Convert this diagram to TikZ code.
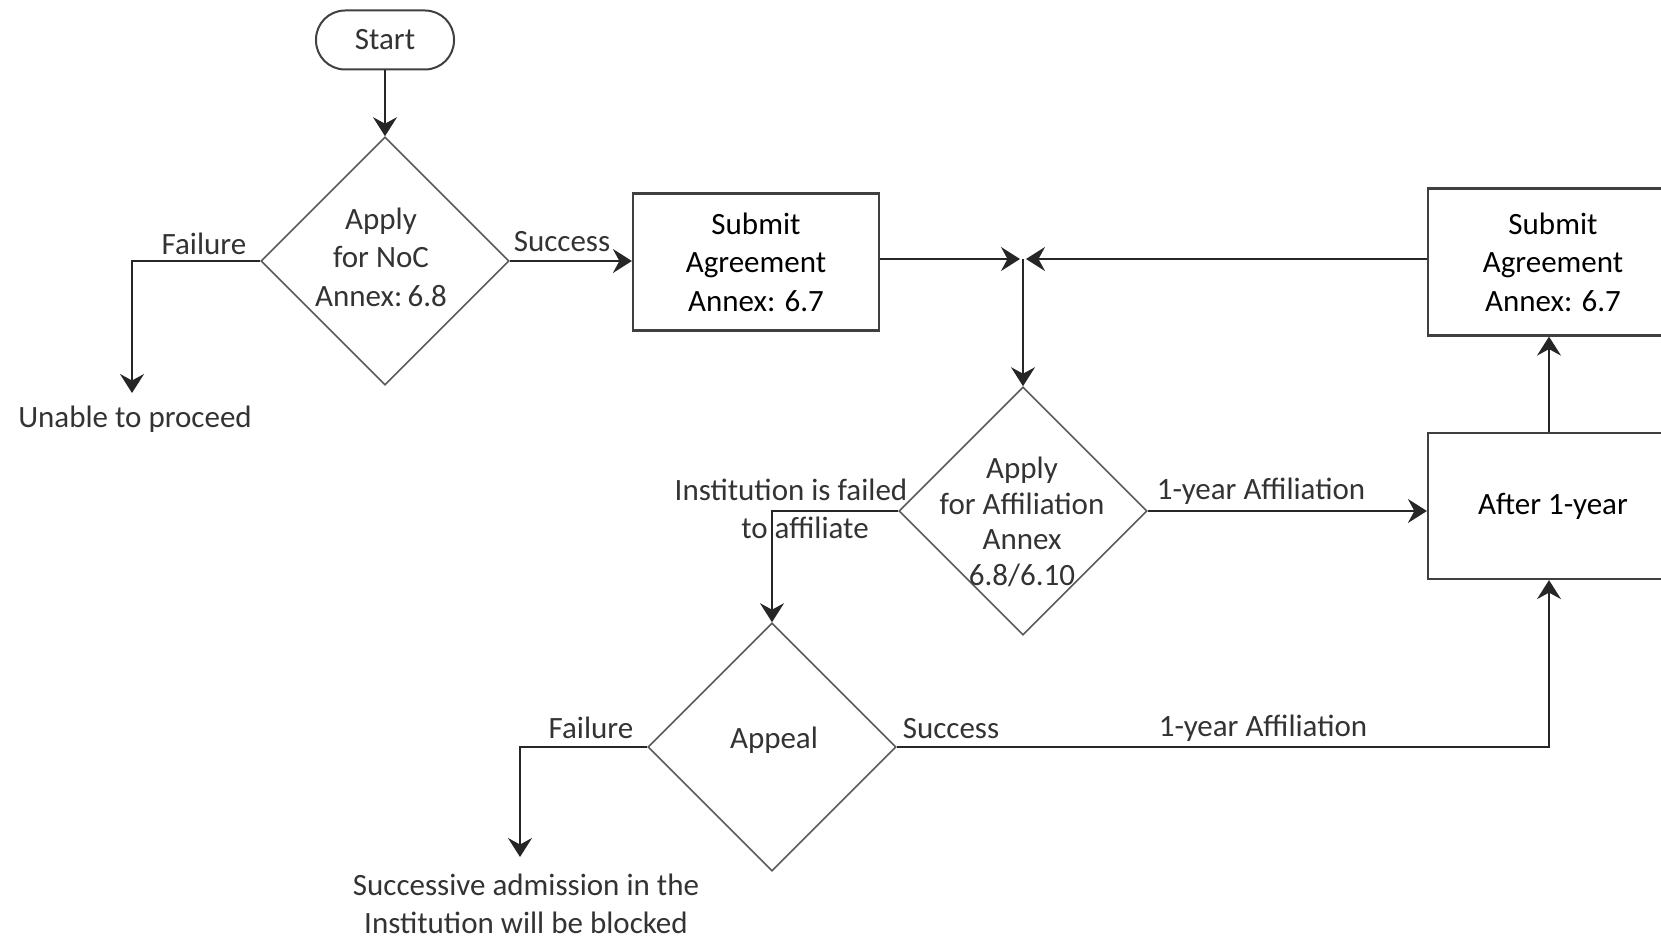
\documentclass[tikz,border=0pt]{standalone}
\usepackage{fontspec}
\setmainfont{Carlito}
\usetikzlibrary{shapes.geometric,arrows.meta}

\tikzset{
  tipshape/.tip={Stealth[length=19pt,width=24pt,inset=6.5pt]}
}

\begin{document}
\begin{tikzpicture}[x=1pt,y=-1pt,
  ink/.style={draw=black!85, line width=2pt},
  arr/.style={ink, -tipshape},
  term/.style={draw=black!75, line width=2pt, rectangle, rounded corners=29pt,
    minimum width=138pt, minimum height=59pt, inner sep=0pt},
  procbox/.style={draw=black!75, line width=2.2pt, rectangle, align=center,
    minimum width=246pt, inner sep=0pt},
  dia/.style={draw=black!65, line width=1.6pt, diamond, minimum width=248pt,
    minimum height=248pt, inner sep=0pt},
  txt/.style={align=center, inner sep=0pt, text=black!80},
  lbl/.style={inner sep=0pt, text=black!80, text height=0.7em, text depth=0.2em}
]
\useasboundingbox (0,0) rectangle (1661,939);
\clip (0,0) rectangle (1661,939);
\fontsize{31}{38.5}\selectfont

% start and the NoC decision
\node[term, text=black!80] (start) at (385,40) {Start};
\node[dia] (d1) at (385,261) {};
\node[txt] (d1t) at (381,257) {Apply\\for NoC\\Annex:\,6.8};
\draw[arr] (start) -- (d1.north);

\coordinate (f1) at (132,393);
\draw[arr] (d1.west) -| (f1);
\node[lbl] (fail1) at (204,247) {Failure};
\node[lbl] (unable) at (135,420) {Unable to proceed};

% agreement boxes and the junction
\node[procbox, minimum height=137pt] (b1) at (756,262) {Submit\\Agreement\\Annex: 6.7};
\draw[arr] (d1.east) -- (d1.east -| b1.west);
\node[lbl] (succ1) at (562,244) {Success};

\coordinate (J) at (1023,259);
\node[procbox, minimum height=147pt, minimum width=250pt] (b2) at (1553,262) {Submit\\Agreement\\Annex: 6.7};
\draw[arr, shorten >=3pt] (b1.east |- J) -- (J);
\draw[arr, shorten >=3pt] (b2.west |- J) -- (J);

% affiliation decision
\node[dia] (d2) at (1023,511) {};
\node[txt, font=\fontsize{31}{35.5}\selectfont] (d2t) at (1022,522) {Apply\\for Affiliation\\Annex\\6.8/6.10};
\draw[arr] (J) -- (d2.north);

\node[procbox, minimum height=146pt, minimum width=250pt] (b3) at (1553,506) {After 1-year};
\draw[arr] (d2.east) -- (d2.east -| b3.west);
\node[lbl] (aff1) at (1261,492) {1-year Affiliation};
\draw[arr] ([xshift=-4pt]b3.north) -- ([xshift=-4pt]b2.south);

% appeal
\node[dia] (ap) at (772,747) {};
\node[txt] (apt) at (774,740) {Appeal};
\draw[arr] (d2.west) -| (ap.north);
\node[lbl] (inst1) at (791,493) {Institution is failed};
\node[lbl] (inst2) at (805,531) {to affiliate};

\coordinate (f2) at (520,857);
\draw[arr] (ap.west) -| (f2);
\node[lbl] (fail2) at (591,731) {Failure};
\node[txt] (blocked) at (526,904) {Successive admission in the\\Institution will be blocked};

\draw[arr] (ap.east) -| ([xshift=-4pt]b3.south);
\node[lbl] (succ2) at (951,731) {Success};
\node[lbl] (aff2) at (1263,729) {1-year Affiliation};
\end{tikzpicture}
\end{document}
